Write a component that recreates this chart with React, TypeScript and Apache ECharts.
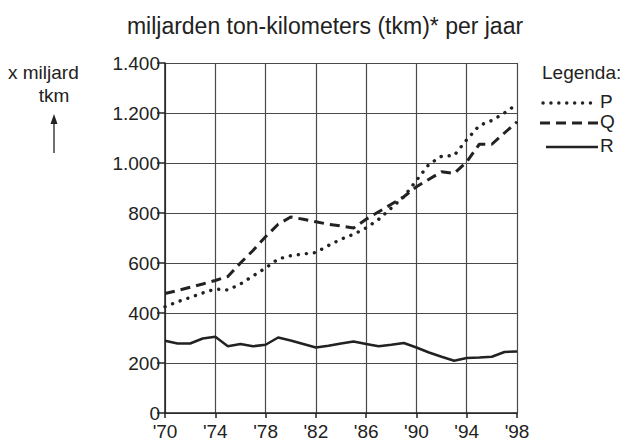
import React, { useEffect, useRef } from "react";
import * as echarts from "echarts";

const years = [1970, 1971, 1972, 1973, 1974, 1975, 1976, 1977, 1978, 1979, 1980, 1981, 1982, 1983, 1984, 1985, 1986, 1987, 1988, 1989, 1990, 1991, 1992, 1993, 1994, 1995, 1996, 1997, 1998];
const seriesP = [425, 445, 462, 480, 496, 492, 516, 548, 580, 616, 629, 636, 642, 670, 695, 715, 740, 775, 820, 865, 930, 995, 1027, 1030, 1093, 1150, 1170, 1200, 1235];
const seriesQ = [478, 490, 503, 516, 530, 546, 600, 650, 705, 755, 784, 775, 765, 755, 748, 740, 775, 805, 835, 865, 905, 935, 965, 958, 1005, 1075, 1075, 1120, 1165];
const seriesR = [289, 278, 278, 298, 305, 267, 276, 267, 273, 302, 290, 276, 262, 269, 278, 286, 276, 267, 273, 280, 262, 242, 225, 209, 220, 222, 225, 244, 246];
const baseYear = 1970;
const legendNames = ["P", "Q", "R"];
const titleText = "miljarden ton-kilometers (tkm)* per jaar";

const FONT = "'Liberation Sans', Arial, sans-serif";
const INK = "#222";

function pairs(vals: number[]) {
  return vals.map((v, i) => [years[i] - baseYear, v]);
}

export default function App() {
  const ref = useRef<HTMLDivElement>(null);
  useEffect(() => {
    const chart = echarts.init(ref.current!, null, { renderer: "svg" });
    const lineBase = { type: "line", showSymbol: false, symbol: "none", z: 5 };
    chart.setOption({
      animation: false,
      backgroundColor: "#fff",
      textStyle: { fontFamily: FONT, color: INK },
      title: {
        text: titleText,
        left: 320,
        textAlign: "center",
        top: 9,
        textStyle: { fontFamily: FONT, fontSize: 23, fontWeight: "normal", color: INK },
      },
      grid: { left: 165, right: 119, top: 63, bottom: 28, containLabel: false },
      xAxis: {
        type: "value",
        min: 0,
        max: 28,
        interval: 4,
        axisLine: { show: true, onZero: false, lineStyle: { color: INK, width: 1.5 } },
        axisTick: { show: true, length: 5, lineStyle: { color: INK, width: 1.5 } },
        axisLabel: {
          fontFamily: FONT,
          fontSize: 19,
          lineHeight: 16,
          color: INK,
          margin: 10,
          formatter: (v: number) => "'" + String((baseYear + v) % 100).padStart(2, "0"),
        },
        splitLine: { show: true, lineStyle: { color: "#4a4a4a", width: 1.2 } },
      },
      yAxis: {
        type: "value",
        min: 0,
        max: 1400,
        interval: 200,
        axisLine: { show: true, lineStyle: { color: INK, width: 1.5 } },
        axisTick: { show: true, length: 8, lineStyle: { color: INK, width: 1.5 } },
        axisLabel: {
          fontFamily: FONT,
          fontSize: 19,
          lineHeight: 15,
          color: INK,
          margin: 5,
          formatter: (v: number) => (v >= 1000 ? Math.floor(v / 1000) + "." + String(v % 1000).padStart(3, "0") : String(v)),
        },
        splitLine: { show: true, lineStyle: { color: "#4a4a4a", width: 1.2 } },
      },
      series: [
        {
          ...lineBase,
          name: legendNames[0],
          data: pairs(seriesP),
          lineStyle: { color: INK, width: 3.4, type: [0.1, 8], cap: "round" },
        },
        {
          ...lineBase,
          name: legendNames[1],
          data: pairs(seriesQ),
          lineStyle: { color: INK, width: 3, type: [10, 6] },
        },
        {
          ...lineBase,
          name: legendNames[2],
          data: pairs(seriesR),
          lineStyle: { color: INK, width: 2.5 },
        },
      ],
      graphic: [
        { type: "text", x: 8, y: 63, style: { text: "x miljard", font: `19px ${FONT}`, fill: INK } },
        { type: "text", x: 54, y: 86, style: { text: "tkm", font: `19px ${FONT}`, fill: INK, textAlign: "center" } },
        { type: "line", shape: { x1: 54, y1: 153, x2: 54, y2: 120 }, style: { stroke: INK, lineWidth: 1.3 } },
        { type: "polygon", shape: { points: [[54, 114], [50.5, 124], [57.5, 124]] }, style: { fill: INK } },
        { type: "text", x: 542, y: 63, style: { text: "Legenda:", font: `19px ${FONT}`, fill: INK } },
        { type: "line", shape: { x1: 543, y1: 103, x2: 598, y2: 103 }, style: { stroke: INK, lineWidth: 3.4, lineDash: [0.1, 7.8], lineCap: "round" } },
        { type: "text", x: 600, y: 92, style: { text: legendNames[0], font: `19px ${FONT}`, fill: INK } },
        { type: "line", shape: { x1: 540, y1: 123, x2: 598, y2: 123 }, style: { stroke: INK, lineWidth: 3, lineDash: [10, 6] } },
        { type: "text", x: 600, y: 112, style: { text: legendNames[1], font: `19px ${FONT}`, fill: INK } },
        { type: "line", shape: { x1: 546, y1: 147, x2: 598, y2: 147 }, style: { stroke: INK, lineWidth: 2.5 } },
        { type: "text", x: 600, y: 136, style: { text: legendNames[2], font: `19px ${FONT}`, fill: INK } },
      ],
    });
    return () => chart.dispose();
  }, []);
  return <div ref={ref} style={{ width: 636, height: 441, position: "absolute", left: 0, top: 0 }} />;
}
